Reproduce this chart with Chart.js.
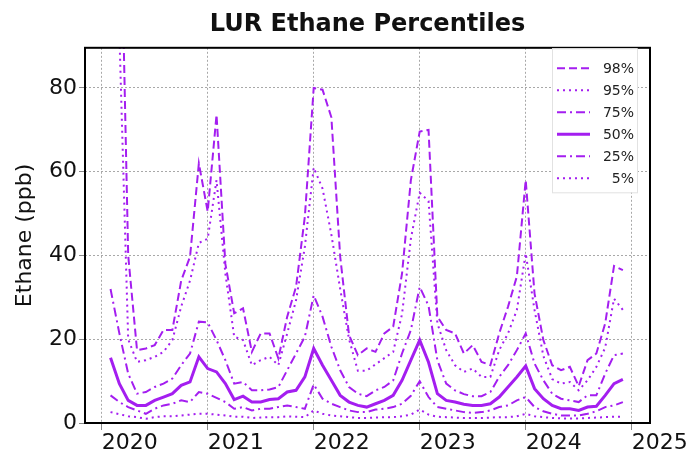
<!DOCTYPE html>
<html>
<head>
<meta charset="utf-8">
<script src="https://cdn.jsdelivr.net/npm/chart.js@4.4.1/dist/chart.umd.min.js"></script>
<style>
  html, body { margin: 0; padding: 0; background: #ffffff; }
  #wrap { width: 691px; height: 457px; position: relative; }
</style>
</head>
<body>
<div id="wrap"><canvas id="c" width="691" height="457"></canvas></div>
<script>
// ---- data ----
const months = [
  '2020-02','2020-03','2020-04','2020-05','2020-06','2020-07','2020-08','2020-09','2020-10','2020-11','2020-12',
  '2021-01','2021-02','2021-03','2021-04','2021-05','2021-06','2021-07','2021-08','2021-09','2021-10','2021-11','2021-12',
  '2022-01','2022-02','2022-03','2022-04','2022-05','2022-06','2022-07','2022-08','2022-09','2022-10','2022-11','2022-12',
  '2023-01','2023-02','2023-03','2023-04','2023-05','2023-06','2023-07','2023-08','2023-09','2023-10','2023-11','2023-12',
  '2024-01','2024-02','2024-03','2024-04','2024-05','2024-06','2024-07','2024-08','2024-09','2024-10','2024-11','2024-12'
];
const yearTicks = [2020, 2021, 2022, 2023, 2024, 2025];
const yTicks = [0, 20, 40, 60, 80];
const seriesLabels = ['98%', '95%', '75%', '50%', '25%', '5%'];

const p98 = [180,140,40,17.4,17.8,18.6,22.2,22.2,34,39.7,
             62,50.5,73.6,38,26.2,27.4,17,21.4,21.4,15.4,
             25.4,32.5,49.3,80,79.6,73,39.7,21,16.2,17.8,
             17,21.4,23,35.7,58,69.6,70,25.4,22.2,21.4,
             16.6,18.6,14.6,13.8,21.4,27.8,35,58,30.9,19.8,
             13.8,12.6,13.4,8.8,15,16.6,23.8,37.5,36.5];
const p95 = [150,93,20,14.6,15,15.8,17,19.8,27.8,34,
             43,44,58,35.7,20.6,19.8,13.8,15,15.8,13.8,
             21.4,29.3,42.1,61,56,45,32,20,12.5,12.5,
             14,15.5,17,26,44,55,53,23.8,17.4,13.8,
             12.2,13,11,11,17.4,21.4,27,40.5,27,16,
             10.5,9.4,9.8,7.8,10.2,13.4,18,29.7,27];
const p75 = [32,21.4,11.8,7,7.4,8.6,9.4,10.6,13.8,16.6,
             24.2,24,19.8,15,9.4,9.8,7.8,7.8,8,8.6,
             12.6,16.6,20.6,30.5,25.4,18.2,12.6,8.6,7,6.4,
             7.8,8.6,10.2,16.6,22.2,32.5,28,15,9.4,7.8,
             6.9,6.4,6.4,7.4,11,13.8,17.4,21.4,14.2,10.2,
             7,5.8,5.4,5,6.6,6.6,11.8,16.2,16.6];
const p50 = [15.6,9.4,5.4,4.2,4.2,5.4,6.2,7,9,9.8,
             15.8,13,12.2,9.4,5.6,6.4,5,5,5.6,5.8,
             7.4,7.8,11,17.8,13.8,10.2,6.6,5,4.2,3.8,
             4.6,5.4,6.6,10.2,15,19.8,14.5,7,5.4,5,
             4.5,4.2,4.2,4.6,6.2,8.6,11,13.6,8.2,5.8,
             4.2,3.4,3.4,3,3.8,4,6.6,9.4,10.4];
const p25 = [6.6,5,3.8,3,2.2,3.4,4.2,4.6,5.4,5,
             7.4,7,6,5,3.4,3.8,3,3.4,3.4,3.8,
             4.2,3.8,3.4,9.2,5.8,4.6,3.8,3,2.6,2.6,
             3.2,3.4,3.8,4.6,6.5,10,6.2,3.8,3.4,3,
             2.6,2.4,2.6,3,3.8,4.2,5.4,6.2,3.8,2.8,
             2.2,1.8,1.8,1.8,2.2,2.8,3.8,4.2,5];
const p5  = [2.6,2.1,1.6,1.4,1,1.4,1.6,1.6,1.8,2,
             2.2,2.2,2,1.8,1.5,1.5,1.2,1.3,1.4,1.4,
             1.6,1.5,1.4,3,2.2,1.8,1.6,1.4,1.2,1.2,
             1.3,1.4,1.4,1.6,2,3.2,2,1.5,1.4,1.3,
             1.2,1.2,1.2,1.3,1.4,1.4,1.6,2.2,1.6,1.4,
             1.2,1.1,1.1,1.1,1.2,1.3,1.4,1.5,1.5];

// ---- build ----
const PURPLE = '#a41ef0';
const FONT = "'DejaVu Sans', sans-serif";
const xs = months.map(m => { const [yy, mm] = m.split('-').map(Number); return yy + (mm - 1) / 12; });
const toPts = arr => arr.map((v, i) => ({ x: xs[i], y: v }));

const seriesData = [p98, p95, p75, p50, p25, p5];
const seriesStyle = [
  { borderDash: [8, 4], borderWidth: 2 },
  { borderDash: [2, 4], borderWidth: 2 },
  { borderDash: [9, 4, 2, 4], borderWidth: 2 },
  { borderDash: [], borderWidth: 3 },
  { borderDash: [9, 4, 2, 4], borderWidth: 2 },
  { borderDash: [2, 4], borderWidth: 2 }
];

const datasets = seriesData.map((arr, i) => ({
  label: seriesLabels[i],
  data: toPts(arr),
  borderColor: PURPLE,
  backgroundColor: PURPLE,
  borderWidth: seriesStyle[i].borderWidth,
  borderDash: seriesStyle[i].borderDash,
  pointRadius: 0,
  tension: 0,
  fill: false
}));

const framePlugin = {
  id: 'frameAndLegend',
  afterDraw(chart) {
    const ctx = chart.ctx;
    const ca = chart.chartArea;
    ctx.save();
    // frame
    ctx.strokeStyle = '#000';
    ctx.lineWidth = 2;
    ctx.setLineDash([]);
    ctx.strokeRect(ca.left, ca.top, ca.right - ca.left, ca.bottom - ca.top);

    // legend box
    const bx = ca.right - 98, by = ca.top + 0.5, bw = 85, bh = 144;
    ctx.fillStyle = '#ffffff';
    ctx.fillRect(bx, by, bw, bh);
    ctx.strokeStyle = '#e2e2e2';
    ctx.lineWidth = 1;
    ctx.strokeRect(bx + 0.5, by + 0.5, bw, bh);

    ctx.font = "14px " + FONT;
    ctx.textAlign = 'right';
    ctx.textBaseline = 'middle';
    chart.data.datasets.forEach((ds, i) => {
      const y = by + 20 + i * 22;
      ctx.strokeStyle = ds.borderColor;
      ctx.lineWidth = ds.borderWidth;
      ctx.setLineDash(ds.borderDash || []);
      ctx.beginPath();
      ctx.moveTo(bx + 5, y);
      ctx.lineTo(bx + 38, y);
      ctx.stroke();
      ctx.setLineDash([]);
      ctx.fillStyle = '#222';
      ctx.fillText(ds.label, bx + 82, y + 1);
    });
    ctx.restore();
  }
};

new Chart(document.getElementById('c'), {
  type: 'line',
  data: { datasets },
  plugins: [framePlugin],
  options: {
    responsive: false,
    animation: false,
    devicePixelRatio: 1,
    layout: { padding: { left: 0, right: 41, top: 0, bottom: 0 } },
    plugins: {
      legend: { display: false },
      tooltip: { enabled: false },
      title: {
        display: true,
        fullSize: false,
        text: 'LUR Ethane Percentiles',
        color: '#111',
        font: { family: FONT, size: 24, weight: 'bold' },
        padding: { top: 10, bottom: 9 }
      }
    },
    scales: {
      x: {
        type: 'linear',
        min: 2019.8425,
        max: 2025.1726,
        afterBuildTicks: s => { s.ticks = yearTicks.map(v => ({ value: v })); },
        afterFit: s => { s.height = 34; s.paddingLeft = 0; s.paddingRight = 0; },
        ticks: {
          align: 'start',
          autoSkip: false,
          maxRotation: 0,
          padding: 0,
          color: '#111',
          font: { family: FONT, size: 22 },
          callback: v => String(v)
        },
        grid: {
          color: '#a8a8a8',
          lineWidth: 1,
          drawTicks: true,
          tickLength: 7,
          tickColor: '#888',
          tickBorderDash: []
        },
        border: { display: false, dash: [2, 2] }
      },
      y: {
        min: 0,
        max: 89.6,
        afterBuildTicks: s => { s.ticks = yTicks.map(v => ({ value: v })); },
        afterFit: s => { s.width = 85; s.paddingTop = 0; s.paddingBottom = 0; },
        ticks: {
          padding: 2,
          color: '#111',
          font: { family: FONT, size: 22 },
          callback: v => String(v)
        },
        grid: {
          color: '#a8a8a8',
          lineWidth: 1,
          drawTicks: true,
          tickLength: 6,
          tickColor: '#888',
          tickBorderDash: []
        },
        border: { display: false, dash: [2, 2] },
        title: {
          display: true,
          text: 'Ethane (ppb)',
          color: '#111',
          font: { family: FONT, size: 22 },
          padding: { top: 12, bottom: 0 }
        }
      }
    }
  }
});
</script>
</body>
</html>
